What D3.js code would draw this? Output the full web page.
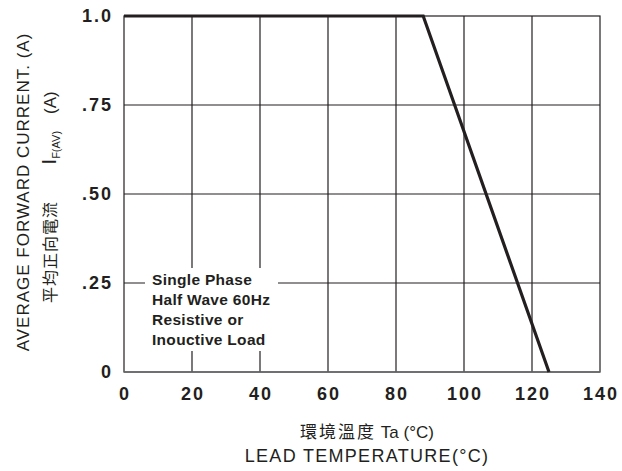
<!DOCTYPE html>
<html>
<head>
<meta charset="utf-8">
<script src="https://cdn.jsdelivr.net/npm/d3@7"></script>
<style>
  body { margin: 0; background: #fff; }
  text { font-family: "Liberation Sans", Arial, sans-serif; fill: #231f20; }
  .tick-lbl { font-weight: bold; font-size: 18px; letter-spacing: 2px; }
  .note { font-weight: bold; font-size: 15.5px; letter-spacing: 0.3px; }
  .cjk { font-family: "Noto Sans CJK TC", sans-serif; }
</style>
</head>
<body>
<div id="chart"></div>
<script>
// derating curve data
var tempVals = [0, 88, 125];
var currentVals = [1.0, 1.0, 0];
var xTicks = [0, 20, 40, 60, 80, 100, 120, 140];
var yTicks = [0, 0.25, 0.5, 0.75, 1.0];
var yTickLabels = ["0", ".25", ".50", ".75", "1.0"];
var noteLines = ["Single Phase", "Half Wave 60Hz", "Resistive or", "Inouctive Load"];

var svg = d3.select("#chart")
  .append("svg")
  .attr("width", 622)
  .attr("height", 471);

var x = d3.scaleLinear().domain([0, 140]).range([124, 600]);
var y = d3.scaleLinear().domain([0, 1]).range([372, 16]);

// grid lines
svg.append("g")
  .selectAll("line")
  .data(xTicks.slice(1, -1))
  .enter()
  .append("line")
    .attr("x1", function(d) { return x(d); })
    .attr("x2", function(d) { return x(d); })
    .attr("y1", y(1))
    .attr("y2", y(0))
    .attr("stroke", "#231f20")
    .attr("stroke-width", 1.2);

svg.append("g")
  .selectAll("line")
  .data(yTicks.slice(1, -1))
  .enter()
  .append("line")
    .attr("x1", x(0))
    .attr("x2", x(140))
    .attr("y1", function(d) { return y(d); })
    .attr("y2", function(d) { return y(d); })
    .attr("stroke", "#231f20")
    .attr("stroke-width", 1.2);

// frame
svg.append("rect")
  .attr("x", x(0))
  .attr("y", y(1))
  .attr("width", x(140) - x(0))
  .attr("height", y(0) - y(1))
  .attr("fill", "none")
  .attr("stroke", "#231f20")
  .attr("stroke-width", 1.2);

svg.append("line")
  .attr("x1", x(0)).attr("x2", x(140))
  .attr("y1", y(0)).attr("y2", y(0))
  .attr("stroke", "#6d6e71")
  .attr("stroke-width", 1.5);

// white box behind the note
svg.append("rect")
  .attr("x", 145)
  .attr("y", 268)
  .attr("width", 133)
  .attr("height", 83)
  .attr("fill", "#fff");

svg.append("g")
  .selectAll("text")
  .data(noteLines)
  .enter()
  .append("text")
    .attr("class", "note")
    .attr("x", 152)
    .attr("y", function(d, i) { return 285 + i * 20; })
    .text(function(d) { return d; });

// the curve
var pts = tempVals.map(function(t, i) { return [t, currentVals[i]]; });
svg.append("path")
  .datum(pts)
  .attr("d", d3.line()
    .x(function(d) { return x(d[0]); })
    .y(function(d) { return y(d[1]); }))
  .attr("fill", "none")
  .attr("stroke", "#231f20")
  .attr("stroke-width", 3.2);

// tick labels
svg.append("g")
  .selectAll("text")
  .data(yTicks)
  .enter()
  .append("text")
    .attr("class", "tick-lbl")
    .attr("x", 113)
    .attr("y", function(d) { return y(d) + 6; })
    .attr("text-anchor", "end")
    .text(function(d, i) { return yTickLabels[i]; });

svg.append("g")
  .selectAll("text")
  .data(xTicks)
  .enter()
  .append("text")
    .attr("class", "tick-lbl")
    .attr("x", function(d) { return x(d) + 1; })
    .attr("y", 400)
    .attr("text-anchor", "middle")
    .text(function(d) { return d; });

// axis titles
svg.append("text")
  .attr("transform", "translate(29,192) rotate(-90)")
  .attr("text-anchor", "middle")
  .style("font-size", "17px")
  .style("letter-spacing", "1px")
  .text("AVERAGE FORWARD CURRENT. (A)");

var t2 = svg.append("text")
  .attr("transform", "translate(56,128) rotate(-90)")
  .attr("text-anchor", "middle")
  .style("font-size", "17px");
t2.append("tspan").style("font-size", "21px").text("I");
t2.append("tspan").attr("dy", 4).style("font-size", "11px").text("F(AV)");
t2.append("tspan").attr("dy", -4).attr("dx", 17).text("(A)");

svg.append("text")
  .attr("class", "cjk")
  .attr("transform", "translate(56,252) rotate(-90)")
  .attr("text-anchor", "middle")
  .style("font-size", "16px")
  .style("letter-spacing", "1px")
  .text("平均正向電流");

svg.append("text")
  .attr("x", 367)
  .attr("y", 438)
  .attr("text-anchor", "middle")
  .style("font-size", "17px")
  .html('<tspan class="cjk" style="letter-spacing:2px">環境溫度</tspan> Ta (°C)');

svg.append("text")
  .attr("x", 367)
  .attr("y", 462)
  .attr("text-anchor", "middle")
  .style("font-size", "18px")
  .style("letter-spacing", "1.3px")
  .text("LEAD TEMPERATURE(°C)");
</script>
</body>
</html>
